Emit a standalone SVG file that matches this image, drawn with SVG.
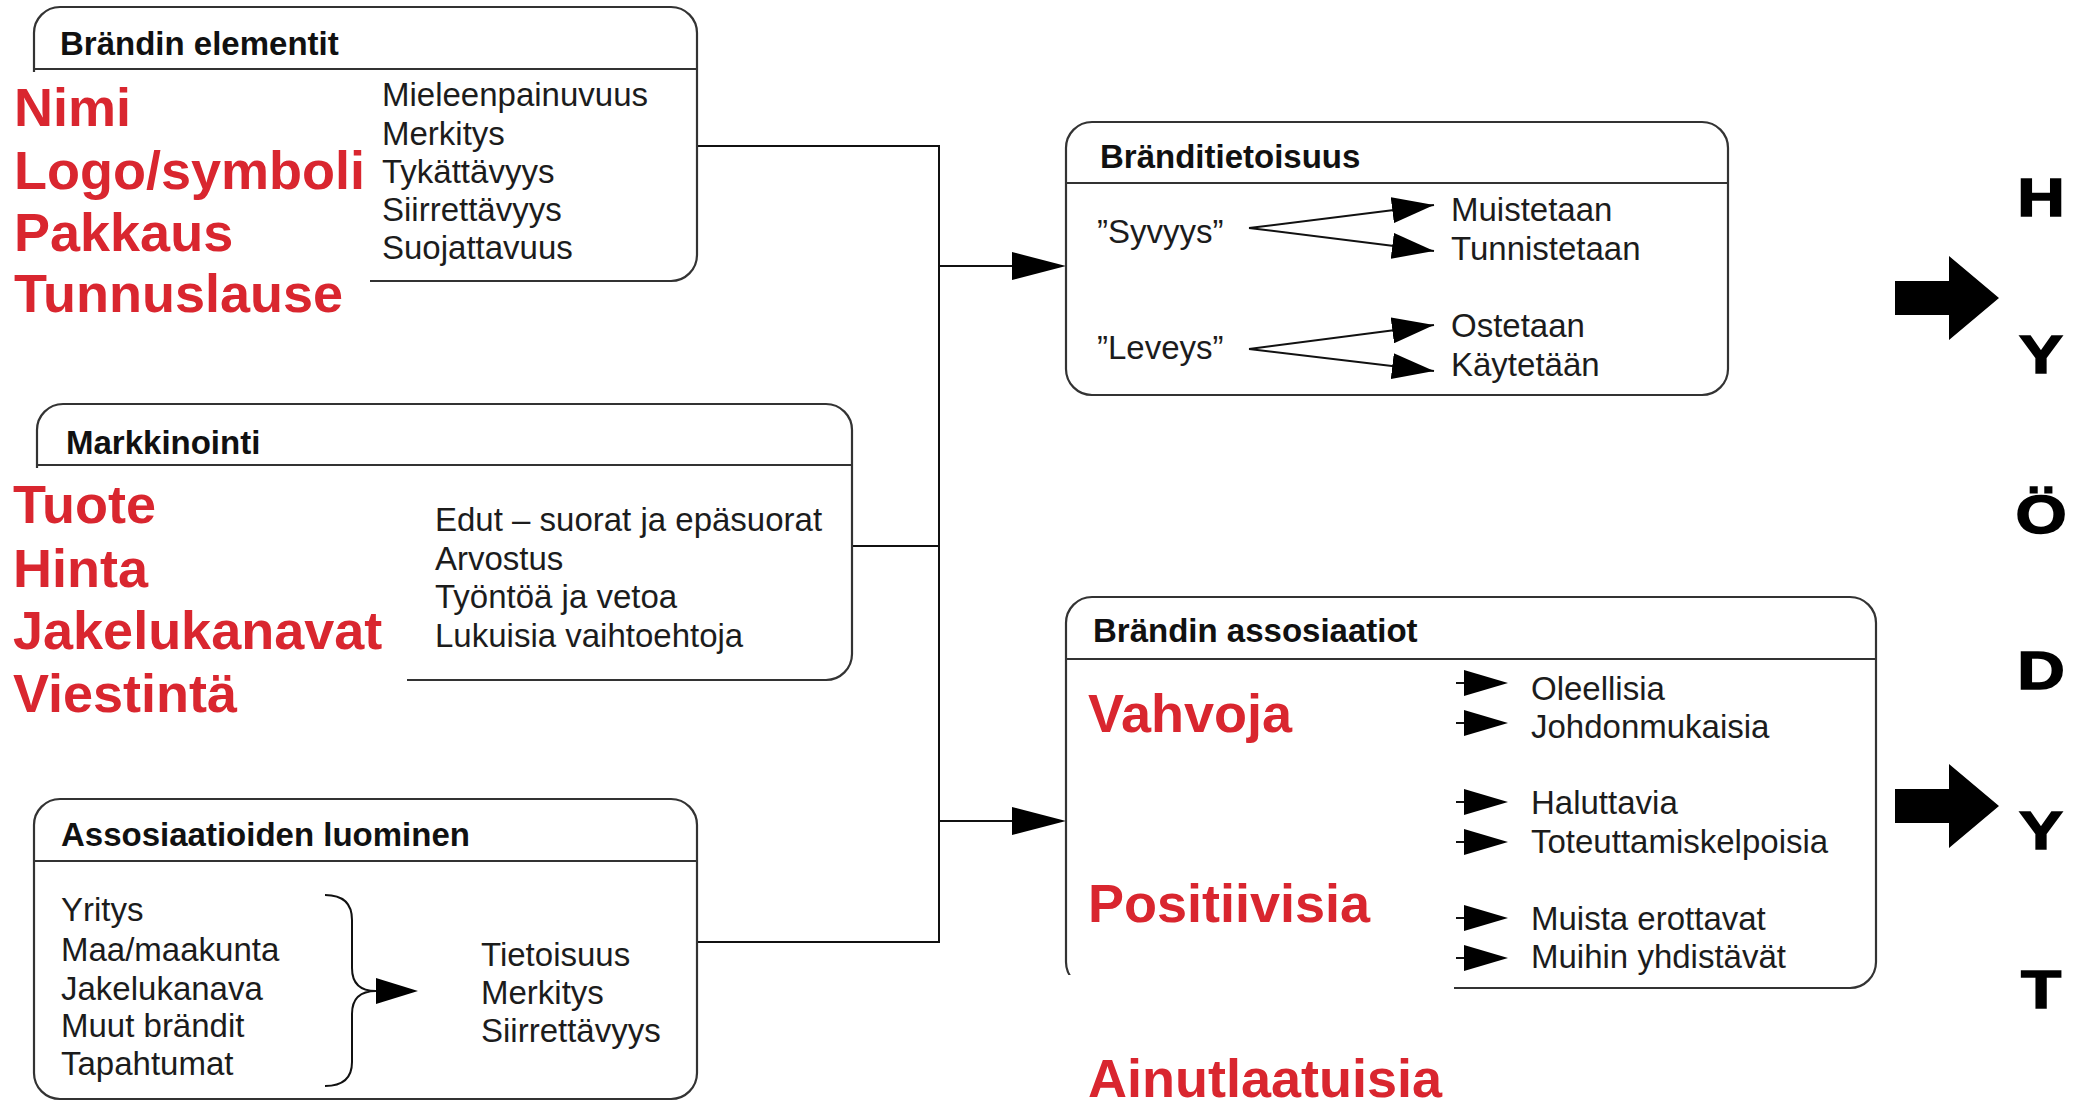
<svg xmlns="http://www.w3.org/2000/svg" width="2078" height="1110" viewBox="0 0 2078 1110">
<style>
.box{fill:#fff;stroke:#333;stroke-width:2.2}
.div{stroke:#333;stroke-width:2.2}
.ttl{font-family:"Liberation Sans",Arial,sans-serif;font-weight:bold;font-size:33px;fill:#111}
.txt{font-family:"Liberation Sans",Arial,sans-serif;font-size:33px;fill:#1c1c1c}
.red{font-family:"Liberation Sans",Arial,sans-serif;font-weight:bold;font-size:54px;fill:#d9262f}
.big{font-family:"Liberation Sans",Arial,sans-serif;font-weight:bold;font-size:54px;fill:#000;stroke:#000;stroke-width:1.5;text-anchor:middle}
.ln{fill:none;stroke:#111;stroke-width:2}
.cover{fill:#fff}
</style>
<defs>
<marker id="ahL" viewBox="0 0 54 28" refX="0" refY="14" markerWidth="54" markerHeight="28" markerUnits="userSpaceOnUse" orient="auto"><path d="M0,0 L54,14 L0,28 Z" fill="#000"/></marker>
<marker id="ahS" viewBox="0 0 42 26" refX="42" refY="13" markerWidth="42" markerHeight="26" markerUnits="userSpaceOnUse" orient="auto"><path d="M0,0 L42,13 L0,26 Z" fill="#000"/></marker>
<g id="sa"><line x1="-8" y1="0" x2="4" y2="0" stroke="#111" stroke-width="2"/><path d="M0,-13 L44,0 L0,13 Z" fill="#000"/></g>
</defs>
<rect width="2078" height="1110" fill="#fff"/>

<g id="connectors">
<polyline class="ln" points="697,146 939,146 939,942 697,942"/>
<line class="ln" x1="852" y1="546" x2="939" y2="546"/>
<line class="ln" x1="939" y1="266" x2="1012" y2="266" marker-end="url(#ahL)"/>
<line class="ln" x1="939" y1="821" x2="1012" y2="821" marker-end="url(#ahL)"/>
</g>

<g id="brandin-elementit">
<rect class="box" x="34" y="7" width="663" height="274" rx="26"/>
<line class="div" x1="34" y1="69" x2="697" y2="69"/>
<text class="ttl" x="60" y="55">Brändin elementit</text>
<rect class="cover" x="0" y="72" width="370" height="246"/>
<text class="red" x="14" y="126">Nimi</text>
<text class="red" x="14" y="189">Logo/symboli</text>
<text class="red" x="14" y="251">Pakkaus</text>
<text class="red" x="14" y="312">Tunnuslause</text>
<text class="txt" x="382" y="106">Mieleenpainuvuus</text>
<text class="txt" x="382" y="145">Merkitys</text>
<text class="txt" x="382" y="183">Tykättävyys</text>
<text class="txt" x="382" y="221">Siirrettävyys</text>
<text class="txt" x="382" y="259">Suojattavuus</text>
</g>

<g id="markkinointi">
<rect class="box" x="37" y="404" width="815" height="276" rx="26"/>
<line class="div" x1="37" y1="465" x2="852" y2="465"/>
<text class="ttl" x="66" y="454">Markkinointi</text>
<rect class="cover" x="0" y="468" width="407" height="262"/>
<text class="red" x="13" y="523">Tuote</text>
<text class="red" x="13" y="587">Hinta</text>
<text class="red" x="13" y="649">Jakelukanavat</text>
<text class="red" x="13" y="712">Viestintä</text>
<text class="txt" x="435" y="531">Edut – suorat ja epäsuorat</text>
<text class="txt" x="435" y="570">Arvostus</text>
<text class="txt" x="435" y="608">Työntöä ja vetoa</text>
<text class="txt" x="435" y="647">Lukuisia vaihtoehtoja</text>
</g>

<g id="assosiaatioiden-luominen">
<rect class="box" x="34" y="799" width="663" height="300" rx="26"/>
<line class="div" x1="34" y1="861" x2="697" y2="861"/>
<text class="ttl" x="61" y="846">Assosiaatioiden luominen</text>
<text class="txt" x="61" y="921">Yritys</text>
<text class="txt" x="61" y="961">Maa/maakunta</text>
<text class="txt" x="61" y="1000">Jakelukanava</text>
<text class="txt" x="61" y="1037">Muut brändit</text>
<text class="txt" x="61" y="1075">Tapahtumat</text>
<path class="ln" d="M325,895 Q352,895 352,920 L352,968 Q352,991 376,991 Q352,991 352,1014 L352,1062 Q352,1086 325,1086"/>
<path d="M376,978 L418,991 L376,1004 Z" fill="#000"/>
<text class="txt" x="481" y="966">Tietoisuus</text>
<text class="txt" x="481" y="1004">Merkitys</text>
<text class="txt" x="481" y="1042">Siirrettävyys</text>
</g>

<g id="branditietoisuus">
<rect class="box" x="1066" y="122" width="662" height="273" rx="26"/>
<line class="div" x1="1066" y1="183" x2="1728" y2="183"/>
<text class="ttl" x="1100" y="168">Bränditietoisuus</text>
<text class="txt" x="1097" y="243">”Syvyys”</text>
<text class="txt" x="1097" y="359">”Leveys”</text>
<line class="ln" x1="1249" y1="228" x2="1434" y2="205" marker-end="url(#ahS)"/>
<line class="ln" x1="1249" y1="228" x2="1434" y2="251" marker-end="url(#ahS)"/>
<line class="ln" x1="1249" y1="349" x2="1434" y2="325" marker-end="url(#ahS)"/>
<line class="ln" x1="1249" y1="349" x2="1434" y2="371" marker-end="url(#ahS)"/>
<text class="txt" x="1451" y="221">Muistetaan</text>
<text class="txt" x="1451" y="260">Tunnistetaan</text>
<text class="txt" x="1451" y="337">Ostetaan</text>
<text class="txt" x="1451" y="376">Käytetään</text>
</g>

<g id="brandin-assosiaatiot">
<rect class="box" x="1066" y="597" width="810" height="391" rx="26"/>
<line class="div" x1="1066" y1="659" x2="1876" y2="659"/>
<text class="ttl" x="1093" y="642">Brändin assosiaatiot</text>
<rect class="cover" x="1040" y="975" width="414" height="135"/>
<text class="red" x="1088" y="732">Vahvoja</text>
<text class="red" x="1088" y="922">Positiivisia</text>
<text class="red" x="1088" y="1097">Ainutlaatuisia</text>
<use href="#sa" x="1464" y="683"/>
<use href="#sa" x="1464" y="723"/>
<use href="#sa" x="1464" y="802"/>
<use href="#sa" x="1464" y="842"/>
<use href="#sa" x="1464" y="918"/>
<use href="#sa" x="1464" y="958"/>
<text class="txt" x="1531" y="700">Oleellisia</text>
<text class="txt" x="1531" y="738">Johdonmukaisia</text>
<text class="txt" x="1531" y="814">Haluttavia</text>
<text class="txt" x="1531" y="853">Toteuttamiskelpoisia</text>
<text class="txt" x="1531" y="930">Muista erottavat</text>
<text class="txt" x="1531" y="968">Muihin yhdistävät</text>
</g>

<g id="hyodyt">
<polygon points="1895,281 1949,281 1949,256 1999,298 1949,340 1949,315 1895,315" fill="#000"/>
<polygon points="1895,789 1949,789 1949,764 1999,806 1949,848 1949,823 1895,823" fill="#000"/>
<text class="big" transform="translate(2041,216) scale(1.22,1)">H</text>
<text class="big" transform="translate(2041,373) scale(1.22,1)">Y</text>
<text class="big" transform="translate(2041,533) scale(1.22,1)">Ö</text>
<text class="big" transform="translate(2041,689) scale(1.22,1)">D</text>
<text class="big" transform="translate(2041,849) scale(1.22,1)">Y</text>
<text class="big" transform="translate(2041,1008) scale(1.22,1)">T</text>
</g>
</svg>
